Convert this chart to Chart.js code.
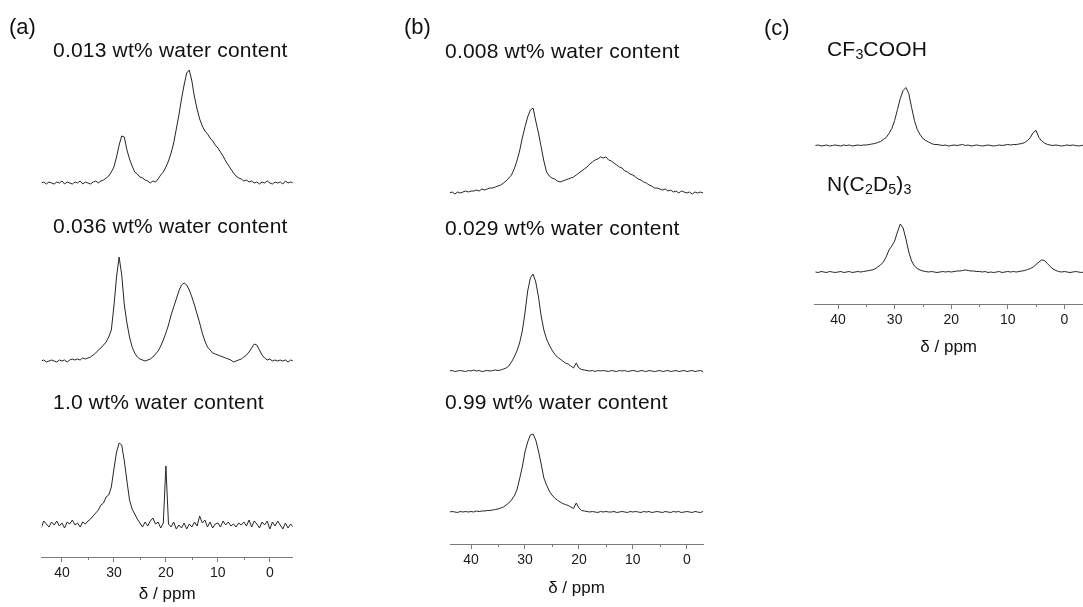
<!DOCTYPE html>
<html>
<head>
<meta charset="utf-8">
<script src="https://cdn.jsdelivr.net/npm/chart.js"></script>
<style>
  html, body { margin:0; padding:0; background:#fff; }
  body { width:1083px; height:607px; position:relative; overflow:hidden; font-family:"Liberation Sans", Arial, sans-serif; color:#111; }
  canvas { position:absolute; top:0; }
  .lbl { position:absolute; line-height:1; white-space:nowrap; transform:translateY(-50%); }
  .ttl { font-size:21px; letter-spacing:0.2px; }
  .pan { font-size:22px; }
  sub { font-size:0.68em; vertical-align:-0.28em; line-height:0; letter-spacing:0; }
</style>
</head>
<body>
<canvas id="ca" width="300" height="607" style="left:0px"></canvas>
<canvas id="cb" width="320" height="607" style="left:400px"></canvas>
<canvas id="cc" width="303" height="360" style="left:780px"></canvas>

<div class="lbl pan" style="left:9px;top:27px">(a)</div>
<div class="lbl pan" style="left:404px;top:27px">(b)</div>
<div class="lbl pan" style="left:764px;top:28px">(c)</div>

<div class="lbl ttl" style="left:53px;top:49px">0.013 wt% water content</div>
<div class="lbl ttl" style="left:53px;top:225px">0.036 wt% water content</div>
<div class="lbl ttl" style="left:53px;top:401px">1.0 wt% water content</div>
<div class="lbl ttl" style="left:445px;top:50px">0.008 wt% water content</div>
<div class="lbl ttl" style="left:445px;top:227px">0.029 wt% water content</div>
<div class="lbl ttl" style="left:445px;top:401px">0.99 wt% water content</div>
<div class="lbl ttl" style="left:827px;top:48px">CF<sub>3</sub>COOH</div>
<div class="lbl ttl" style="left:827px;top:183px">N(C<sub>2</sub>D<sub>5</sub>)<sub>3</sub></div>

<script>
// chemical shift grid (ppm)
const ppm = [44,43.5,43,42.5,42,41.5,41,40.5,40,39.5,39,38.5,38,37.5,37,36.5,36,35.5,35,34.5,
34,33.5,33,32.5,32,31.5,31,30.5,30,29.5,29,28.5,28,27.5,27,26.5,26,25.5,25,24.5,
24,23.5,23,22.5,22,21.5,21,20.5,20,19.5,19,18.5,18,17.5,17,16.5,16,15.5,15,14.5,
14,13.5,13,12.5,12,11.5,11,10.5,10,9.5,9,8.5,8,7.5,7,6.5,6,5.5,5,4.5,
4,3.5,3,2.5,2,1.5,1,0.5,0,-0.5,-1,-1.5,-2,-2.5,-3,-3.5,-4,-4.5];

const tickValues = [40,35,30,25,20,15,10,5,0];
const axisTitle = 'δ / ppm';

// (a) intensities
const a_0013 = [0,1,-1,1,0,-1,1,0,2,-1,
1,0,-1,1,0,2,-1,1,0,-1,
1,2,0,2,3,5,7,11,16,26,
38,47,46,33,24,17,11,9,6,5,
3,2,0,2,1,4,8,11,16,22,
30,40,54,68,84,98,110,113,102,86,
74,64,57,52,49,45,42,38,35,31,
27,22,18,14,10,7,5,4,2,3,
1,2,0,1,-1,1,0,2,0,-1,
1,0,1,-1,2,0,1,0];
const a_0036 = [0,1,-1,0,1,0,-1,1,0,1,
-1,1,2,1,2,1,3,2,3,4,
6,8,11,13,16,19,24,31,55,84,
104,86,56,38,24,14,8,4,2,1,
0,1,2,4,7,10,15,21,28,36,
46,54,62,70,76,78,76,71,64,56,
47,38,28,20,14,11,8,7,6,5,
4,3,2,1,-1,0,1,2,4,6,
9,13,17,16,11,6,3,1,2,0,
1,0,1,0,1,-1,1,0];
const a_10 = [-3,4,1,-2,3,0,4,-1,2,-3,
3,1,5,0,2,-2,3,1,4,6,
9,12,15,20,22,28,30,38,56,73,
82,80,64,44,25,16,11,6,2,-2,
3,-1,4,7,1,3,-3,2,59,1,
-2,3,-4,0,-3,2,-4,1,-2,3,
-1,9,2,5,-2,3,-3,1,2,-2,
4,0,3,-1,1,-2,2,0,3,-1,
5,-2,4,1,-3,3,0,4,-4,3,
-1,4,0,-4,2,-3,1,-2];

// (b) intensities
const b_0008 = [0,1,-1,1,0,1,2,1,2,2,
3,2,4,3,4,5,5,6,7,8,
10,12,15,18,24,32,42,55,66,76,
83,85,72,60,46,32,21,17,15,14,
12,11,12,13,14,15,16,18,20,22,
24,26,29,31,33,34,36,35,36,33,
32,30,28,26,25,22,21,19,18,16,
14,13,11,10,8,7,5,5,4,3,
4,2,3,1,2,0,2,1,0,1,
-1,1,0,1,0,1,0,0];
const b_0029 = [0,0.5,-0.5,0,0.5,0,-0.5,0.5,0,1,
0,0.5,-0.5,0,0.5,0,0.5,1,0.5,1,
2,3,5,9,14,20,28,40,58,80,
93,97,89,74,55,41,32,26,21,17,
14,12,10,8,7,5,3,8,3,1.5,
1,0.5,0,0.5,-0.5,0.5,0,0.5,0,-0.5,
0.5,0,-0.5,0.5,0,0.5,-0.5,0,0.5,0,
-0.5,0.5,0,-0.5,0.5,0,-0.5,0,0.5,-0.5,
0,0.5,-0.5,0,0.5,-0.5,0,0.5,-0.5,0,
0.5,-0.5,0,0.5,-0.5,0,0.5,0];
const b_099 = [0,0.5,0,-0.5,0.5,0,0.5,0,0.5,0,
1,0.5,1,1,1.5,1.5,2,2.5,3,4,
5,7,9,12,16,22,33,45,60,70,
77,78,72,61,48,34,27,21,17,14,
12,10,8.5,7.5,6.5,5,3.5,9,4,1.5,
1,0.5,0,0.5,0,-0.5,0.5,0,0.5,0,
0,0.5,-0.5,0,0.5,0,-0.5,0.5,0,0.5,
0,-0.5,0.5,0,0.5,-0.5,0,0.5,0,-0.5,
0.5,0,-0.5,0.5,0,0.5,-0.5,0,0.5,0,
-0.5,0.5,0,-0.5,0.5,0,0.5,0];

// (c) intensities
const c_CF3COOH = [0,0.5,-0.5,0,0.5,-0.5,0,0.5,0,-0.5,
0.5,0,0.5,-0.5,0,0.5,0,0.5,0.5,1,
1.5,2,3,4,6,8,12,17,25,36,
47,55,58,52,38,25,16,11,7,5,
3.5,2,1,1,0.5,0,0.5,-0.5,0,0.5,
0,0.5,1,0,0.5,-0.5,0,0.5,0,-0.5,
0,0.5,0,-0.5,0,0.5,0,0.5,1,0.5,
1,1,1.5,2,3,5,8,13,15,8,
4.5,2.5,1,0.5,0,0.5,0,-0.5,0,0.5,
0,0.5,0,-0.5,0,0.5,0,0];
const c_NEt3 = [0,-0.5,0.5,0,-0.5,0.5,0,-0.5,0,0.5,
-0.5,0,0.5,-0.5,0,0.5,0,0.5,1,1.5,
2,3,5,7,10,15,22,26,31,40,
48,44,33,20,11,6,3.5,2,1,0.5,
0,0.5,0,-0.5,0,0.5,0,0.5,0,0.5,
1,1,1.5,2,1.5,1,1,0.5,0.5,0,
0.5,-0.5,0,-0.5,0,0.5,-0.5,0,0.5,0,
0.5,0,0.5,1,1.5,2.5,3.5,5,7.5,10,
12,11.5,8.5,5.5,3,1.5,0.5,0,0.5,0,
-0.5,0,0.5,0,-0.5,0,0.5,0];

// ---- layout (pixels) ----
const panels = [
  { id:'ca', xMin:-4.4, xMax:43.9, padL:41.7, padR:7.3, axisY:557, titlePad:2.4,
    spectra:[{v:a_0013, base:183},{v:a_0036, base:361},{v:a_10, base:525}] },
  { id:'cb', xMin:-3.0, xMax:43.9, padL:50, padR:17, axisY:544, titlePad:8.4,
    spectra:[{v:b_0008, base:193},{v:b_0029, base:371},{v:b_099, base:512}] },
  { id:'cc', xMin:-3.3, xMax:44.2, padL:34.3, padR:0, axisY:304, titlePad:2.4,
    spectra:[{v:c_CF3COOH, base:145.5},{v:c_NEt3, base:272}] }
];

Chart.defaults.font.family = '"Liberation Sans", Arial, sans-serif';
Chart.defaults.color = '#1a1a1a';

const AXIS_COLOR = '#7a7a7a';

const minorTicks = {
  id:'minorTicks',
  afterDraw(chart) {
    const s = chart.scales.x, ctx = chart.ctx;
    ctx.save();
    ctx.strokeStyle = AXIS_COLOR;
    ctx.lineWidth = 1;
    s.ticks.forEach(t => {
      if (t.value % 10 !== 0) {
        const px = Math.round(s.getPixelForValue(t.value)) + 0.5;
        ctx.beginPath();
        ctx.moveTo(px, s.top);
        ctx.lineTo(px, s.top + 3);
        ctx.stroke();
      }
    });
    ctx.restore();
  }
};

panels.forEach(p => {
  const canvas = document.getElementById(p.id);
  const H = canvas.height;
  const scales = {
    x: {
      type:'linear', position:'bottom', reverse:true, min:p.xMin, max:p.xMax,
      afterFit: s => { s.height = H - p.axisY; },
      border:{ display:true, color:AXIS_COLOR, width:1 },
      grid:{ display:true, drawOnChartArea:false, drawTicks:true, tickLength:5,
             tickColor: c => (c.tick && c.tick.value % 10 === 0) ? AXIS_COLOR : 'rgba(0,0,0,0)' },
      ticks:{ stepSize:5, includeBounds:false, autoSkip:false, maxRotation:0, padding:3,
              font:{ size:14 }, color:'#1a1a1a',
              callback: v => tickValues.includes(v) && v % 10 === 0 ? String(v) : '' },
      title:{ display:true, text:axisTitle, font:{ size:17 }, color:'#111',
              padding:{ top:0, bottom:p.titlePad } }
    }
  };
  const datasets = p.spectra.map((s, i) => {
    const id = 'y' + i;
    scales[id] = { type:'linear', display:false, min:s.base - p.axisY, max:s.base };
    return {
      data: ppm.map((x, k) => ({ x, y: s.v[k] })),
      yAxisID: id,
      borderColor:'#262626', borderWidth:1, pointRadius:0, tension:0, fill:false
    };
  });
  new Chart(canvas, {
    type:'line',
    data:{ datasets },
    options:{
      responsive:false, animation:false, devicePixelRatio:1,
      layout:{ padding:{ left:p.padL, right:p.padR, top:0, bottom:0 } },
      plugins:{ legend:{ display:false }, tooltip:{ enabled:false } },
      scales
    },
    plugins:[minorTicks]
  });
});
</script>
</body>
</html>
